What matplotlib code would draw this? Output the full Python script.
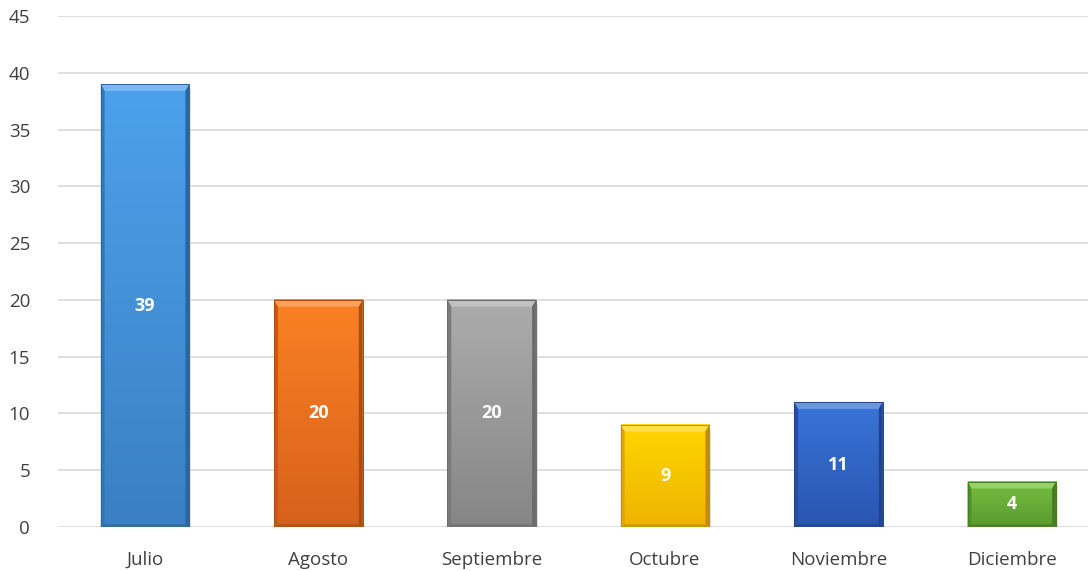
import numpy as np
import matplotlib.pyplot as plt
from matplotlib.colors import to_rgb
from matplotlib.patches import Polygon, Rectangle

plt.rcParams['font.family'] = ['Open Sans', 'DejaVu Sans']

# Data
meses = ['Julio', 'Agosto', 'Septiembre', 'Octubre', 'Noviembre', 'Diciembre']
valores = [39, 20, 20, 9, 11, 4]
colores_top = ['#4da1ec', '#fb8125', '#acacac', '#ffd600', '#3a74d8', '#74bf40']
colores_bot = ['#3a80c2', '#d6611a', '#868686', '#eeb400', '#2855b0', '#5a9a2e']

fig, ax = plt.subplots(figsize=(10.88, 5.71), dpi=100)
fig.subplots_adjust(left=0.0533, right=1.0, bottom=0.077, top=0.972)

ax.set_yticks(np.arange(0, 46, 5))
ax.set_xticks(range(len(meses)))
ax.set_xticklabels(meses)
ax.grid(axis='y', color='#d9d9d9', linewidth=1.2)
ax.set_axisbelow(True)
for s in ax.spines.values():
    s.set_visible(False)
ax.tick_params(length=0, labelsize=13.5, colors='#404040')
ax.tick_params(axis='x', pad=17)
ax.tick_params(axis='y', pad=20)

w = 0.51
for i, (v, ct, cb) in enumerate(zip(valores, colores_top, colores_bot)):
    x0, x1 = i - w / 2, i + w / 2
    # shadow
    ax.add_patch(Rectangle((x0 + 0.01, -0.35), w, v, color='#cfcfcf', alpha=0.6, zorder=2, lw=0))
    # vertical gradient
    t = np.linspace(0, 1, 100)[:, None]
    a, b = np.array(to_rgb(ct)), np.array(to_rgb(cb))
    grad = a * (1 - t[..., None]) + b * t[..., None]
    grad = np.repeat(grad, 2, axis=1)
    ax.imshow(grad, extent=(x0, x1, 0, v), aspect='auto', zorder=3, interpolation='bilinear')
    # bevel edges
    dx, dy = 0.022, 0.6
    light = np.clip(a * 0.75 + 0.25, 0, 1)
    ax.add_patch(Polygon([(x0, v), (x1, v), (x1 - dx, v - dy), (x0 + dx, v - dy)],
                         color=light, zorder=4, lw=0))
    ax.add_patch(Polygon([(x1, v), (x1, 0), (x1 - dx, dy * 0.4), (x1 - dx, v - dy)],
                         color=b * 0.8, zorder=4, lw=0))
    ax.add_patch(Polygon([(x0, v), (x0, 0), (x0 + dx, dy * 0.4), (x0 + dx, v - dy)],
                         color=b * 0.92, zorder=4, lw=0))
    ax.add_patch(Polygon([(x0, 0), (x1, 0), (x1 - dx, dy * 0.4), (x0 + dx, dy * 0.4)],
                         color=b * 0.85, zorder=4, lw=0))
    ax.add_patch(Rectangle((x0, 0), w, v, fill=False, edgecolor=b * 0.8, lw=0.7, zorder=5))
    ax.text(i, v / 2, str(v), ha='center', va='center', color='white',
            fontsize=13, fontweight='bold', zorder=6)

ax.set_xlim(-0.502, 5.44)
ax.set_ylim(0, 45)
plt.savefig('out.png', dpi=100)
